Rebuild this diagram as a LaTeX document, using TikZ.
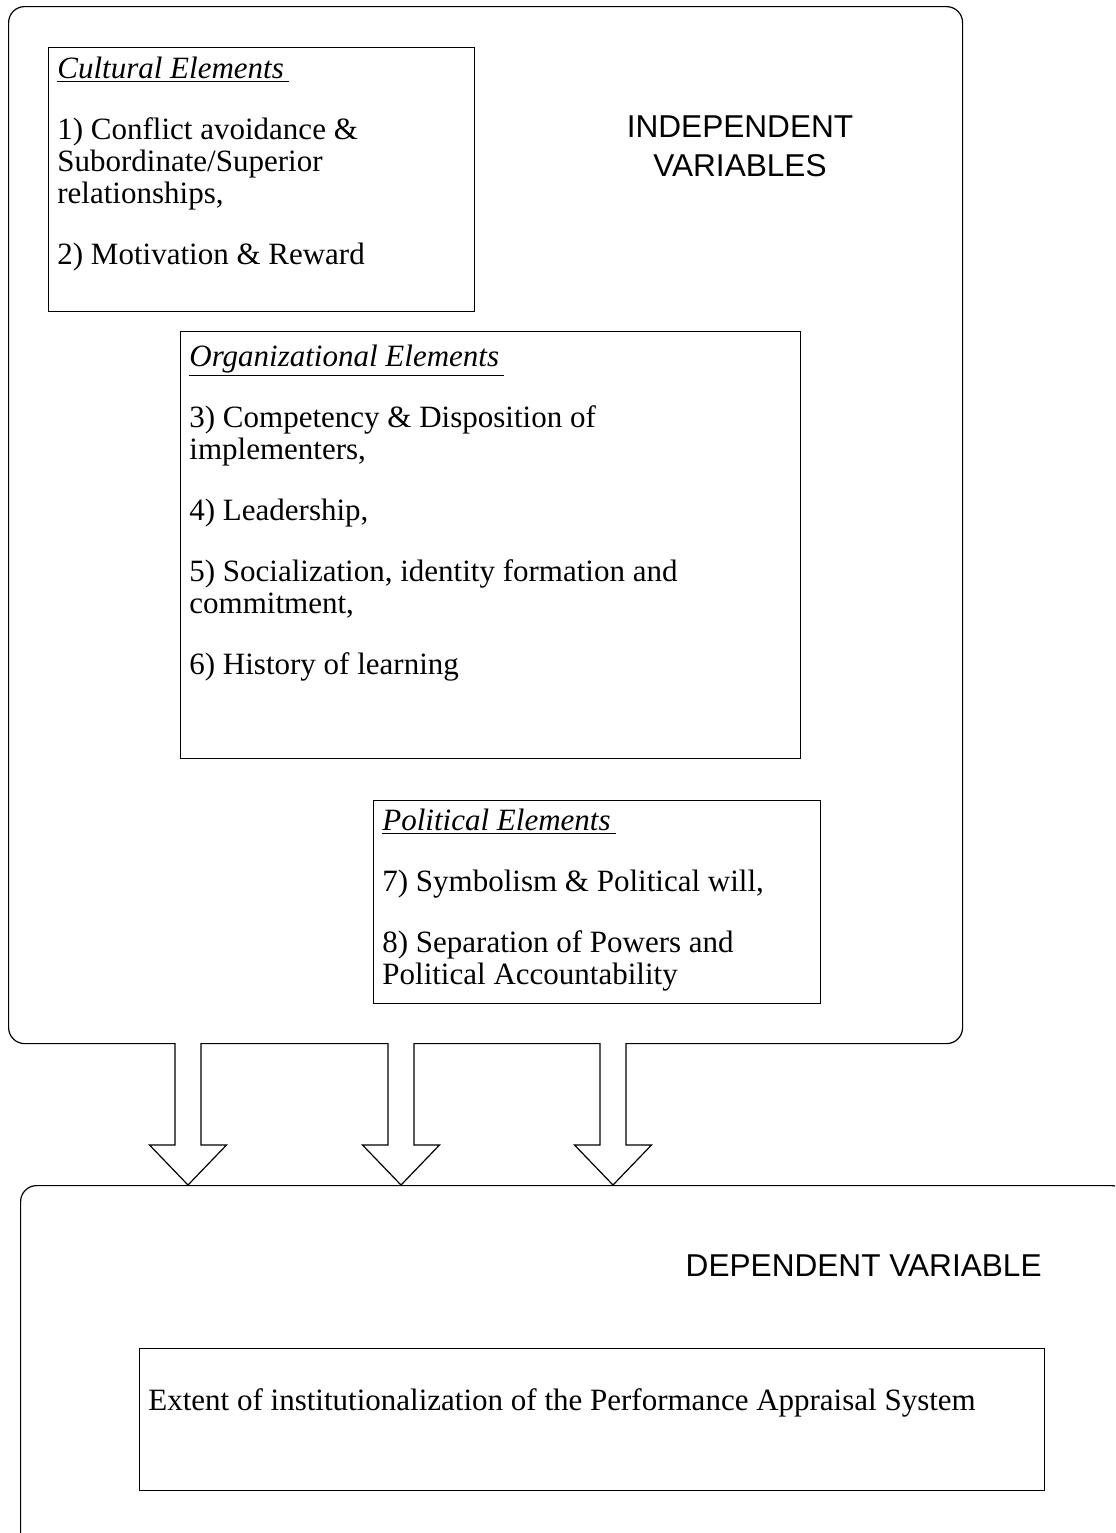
\documentclass[tikz,border=0pt]{standalone}
\usepackage{fontspec}
\setmainfont{Liberation Serif}
\newfontfamily\labelfont{Liberation Sans}
\begin{document}
\begin{tikzpicture}[x=0.5pt,y=-0.5pt,
  frame/.style={draw=black, line width=0.6pt, rounded corners=8pt},
  panel/.style={draw=black, line width=0.6pt, anchor=north west, inner sep=0pt},
  body/.style={anchor=base west, inner sep=0pt, font=\fontsize{15.5}{16}\selectfont},
  caption/.style={inner sep=0pt, font=\labelfont\fontsize{15.8}{19.5}\selectfont},
  blockarrow/.style={draw=black, line width=0.6pt, fill=white, line join=miter}]
\useasboundingbox (0,0) rectangle (1115,1533);
\clip (0,0) rectangle (1115,1533);

% outer frames
\node[frame, panel, minimum width=477pt, minimum height=518.5pt] (indep) at (8,6) {};
\node[frame, panel, minimum width=553.5pt, minimum height=185pt] (dep) at (20,1185) {};

% element boxes
\node[panel, minimum width=213pt, minimum height=132pt] (cult) at (48,47) {};
\node[panel, minimum width=310pt, minimum height=213.5pt] (org) at (180,331) {};
\node[panel, minimum width=223.5pt, minimum height=101.5pt] (pol) at (373,800) {};
\node[panel, minimum width=452.5pt, minimum height=71pt] (outcome) at (139,1348) {};

% box texts
\node[body] (culttext) at (57,78) {\begin{tabular}[t]{@{}l@{}}
\underline{\textit{Cultural Elements}\,}\\[14.5pt]
1) Conflict avoidance \&\\
Subordinate/Superior\\
relationships,\\[14.5pt]
2) Motivation \& Reward
\end{tabular}};

\node[body] (orgtext) at (189,366) {\begin{tabular}[t]{@{}l@{}}
\underline{\textit{Organizational Elements}\,}\\[14.5pt]
3) Competency \& Disposition of\\
implementers,\\[14.5pt]
4) Leadership,\\[14.5pt]
5) Socialization, identity formation and\\
commitment,\\[14.5pt]
6) History of learning
\end{tabular}};

\node[body] (poltext) at (382,830) {\begin{tabular}[t]{@{}l@{}}
\underline{\textit{Political Elements}\,}\\[14.5pt]
7) Symbolism \& Political will,\\[14.5pt]
8) Separation of Powers and\\
Political Accountability
\end{tabular}};

\node[body] (outcometext) at (148,1410) {Extent of institutionalization of the Performance Appraisal System};

% variable captions
\node[caption, anchor=base] (indeplabel) at (740,137) {\begin{tabular}[t]{@{}c@{}}INDEPENDENT\\VARIABLES\end{tabular}};
\node[caption, anchor=base east] (deplabel) at (1042,1276) {DEPENDENT VARIABLE};

% block arrows from the independent frame down to the dependent frame
\foreach \name/\cx in {a/188, b/401, c/613} {
  \coordinate (\name top) at (\cx,1043);
  \coordinate (\name tip) at (\cx,1185);
  \draw[blockarrow]
    ([xshift=-6.5pt]\name top) -- ([xshift=-6.5pt,yshift=20pt]\name tip)
    -- ([xshift=-19.25pt,yshift=20pt]\name tip) -- (\name tip)
    -- ([xshift=19.25pt,yshift=20pt]\name tip) -- ([xshift=6.5pt,yshift=20pt]\name tip)
    -- ([xshift=6.5pt]\name top);
}
\end{tikzpicture}
\end{document}
